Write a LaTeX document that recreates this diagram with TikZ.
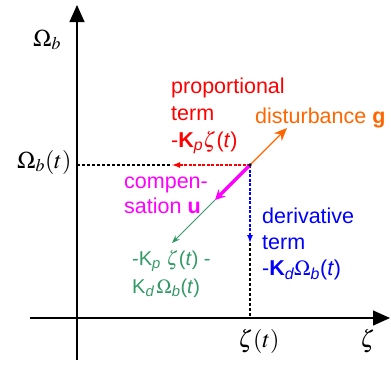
\documentclass[tikz,border=0pt]{standalone}
\usepackage{mathptmx}
\usepackage{fontspec}
\setsansfont{Liberation Sans}
\usepackage{tikz}
\usetikzlibrary{arrows.meta, positioning, calc}
\definecolor{propred}{RGB}{255,0,0}
\definecolor{distorange}{RGB}{255,102,0}
\definecolor{compmag}{RGB}{255,0,255}
\definecolor{sumgreen}{RGB}{51,153,102}
\definecolor{derblue}{RGB}{0,0,255}

\begin{document}
\begin{tikzpicture}[x=1pt, y=-1pt,
  axis/.style={-{Triangle[length=17pt,width=15pt]}, line width=1.1pt},
  guide/.style={dash pattern=on 2.5pt off 2.5pt, line width=1.3pt},
  lbl/.style={font=\sffamily\fontsize{21.5}{27}\selectfont, align=left,
              inner sep=0pt, anchor=base west},
  axlbl/.style={font=\fontsize{24}{28}\selectfont, inner sep=0pt, anchor=base west},
  vec/.style={line width=1.4pt},
]
  \useasboundingbox (0,0) rectangle (391,365);

  % axes
  \coordinate (ylo) at (77,360);
  \coordinate (yhi) at (77,5);
  \coordinate (xlo) at (30,318);
  \coordinate (xhi) at (390,318);
  \draw[axis] (ylo) -- (yhi);
  \draw[axis] (xlo) -- (xhi);

  % state point and vector tips
  \coordinate (pt) at (250,165);
  \coordinate (ptY) at (77,165);
  \coordinate (ptX) at (250,318);
  \coordinate (pTip) at (172,165);
  \coordinate (dTip) at (250,243);
  \coordinate (gTip) at (287,128);
  \coordinate (uTip) at (215,200);
  \coordinate (sTip) at (172,243);

  \draw[guide] (ptY) -- (pTip);
  \draw[guide] (dTip) -- (ptX);
  \draw[vec, propred, dash pattern=on 3pt off 1.5pt,
        -{Latex[length=8pt,width=6pt]}] (pt) -- (pTip);
  \draw[vec, derblue, dash pattern=on 3pt off 1.5pt,
        -{Latex[length=8pt,width=6pt]}] (pt) -- (dTip);
  \draw[vec, distorange, line width=1.1pt,
        -{Stealth[length=13pt,width=11pt]}] (pt) -- (gTip);
  \draw[vec, sumgreen, line width=1pt,
        -{Stealth[length=8pt,width=6pt]}] (uTip) -- (sTip);
  \draw[compmag, line width=3.5pt,
        -{Stealth[length=10pt,width=10pt]}] (pt) -- (uTip);
  \fill (pt) circle (1.8pt);

  % axis labels
  \node[axlbl] (omb) at (33,46) {$\Omega_b$};
  \node[axlbl] (ombt) at (17,168) {$\Omega_b(t)$};
  \node[axlbl] (zt) at (238,347) {$\zeta(t)$};
  \node[axlbl] (z) at (360,347) {$\zeta$};

  % vector labels (base = last line)
  \node[lbl, text=propred] (plbl) at (171,147)
    {proportional\\term\\-\textbf{K}\textsubscript{\itshape p}$\zeta$(\textit{t})};
  \node[lbl, text=distorange] (glbl) at (255,123) {disturbance \textbf{g}};
  \node[lbl, text=compmag, font=\sffamily\fontsize{21.5}{25}\selectfont] (ulbl) at (124,213)
    {compen-\\sation \textbf{u}};
  \node[lbl, text=sumgreen, font=\sffamily\fontsize{20}{28}\selectfont] (slbl) at (132,293)
    {-K\textsubscript{\itshape p} $\zeta$(\textit{t}) -\\K\textsubscript{\itshape d}$\,\Omega$\textsubscript{\itshape b}(\textit{t})};
  \node[lbl, text=derblue, font=\sffamily\fontsize{21.5}{26}\selectfont] (dlbl) at (262,275)
    {derivative\\term\\-\textbf{K}\textsubscript{\itshape d}$\Omega$\textsubscript{\itshape b}(\textit{t})};
\end{tikzpicture}
\end{document}
